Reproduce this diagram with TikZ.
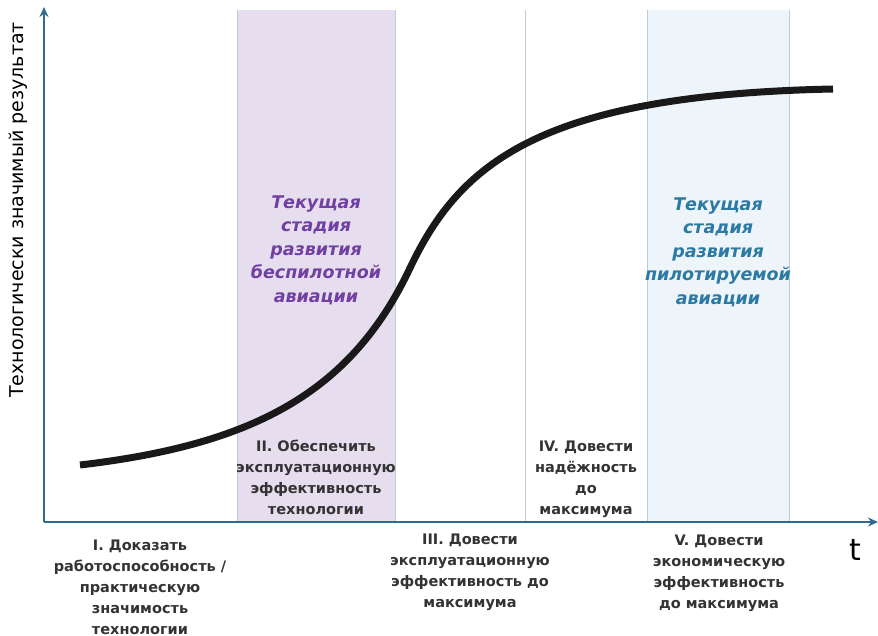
\documentclass[tikz,border=0pt]{standalone}
\usepackage{fontspec}
\setmainfont{DejaVu Sans}
\usepackage{xcolor}
\usepackage{tikz}
\usetikzlibrary{arrows.meta}
\usetikzlibrary{positioning}
\definecolor{axisblue}{HTML}{2F6B8A}
\definecolor{bandline}{HTML}{B8CCDD}
\definecolor{lilac}{HTML}{E6DEEE}
\definecolor{paleblue}{HTML}{EEF5FA}
\definecolor{uavtext}{HTML}{7140A2}
\definecolor{mantext}{HTML}{2B7AA3}
\definecolor{stagetext}{HTML}{333333}
\tikzstyle{axis} = [draw=axisblue, line width=2.6pt, -{Stealth[length=10pt,width=9pt]}]
\tikzstyle{band} = [draw=bandline, line width=0.9pt]
\tikzstyle{stage} = [align=center, text=stagetext, font=\fontsize{14.5}{21}\selectfont\bfseries, inner sep=0pt]
\tikzstyle{current} = [align=center, font=\fontsize{17.5}{23.5}\selectfont\bfseries\itshape, inner sep=0pt]

\begin{document}
\begin{tikzpicture}[x=1pt,y=-1pt]
    \useasboundingbox (0,0) rectangle (878,636);
    % Place bands
    \fill[lilac] (237,10) rectangle (395,522);
    \fill[paleblue] (647,10) rectangle (789,522);
    \draw[band] (237,10) -- (237,522);
    \draw[band] (395,10) -- (395,522);
    \draw[band] (525,10) -- (525,522);
    \draw[band] (647,10) -- (647,522);
    \draw[band] (789,10) -- (789,522);
    % Place coordinates
    \coordinate (origin) at (44,522);
    \coordinate (ytop) at (44,7);
    \coordinate (xend) at (878,522);
    % Draw axes
    \path [axis] (origin) -- (ytop);
    \path [axis] (origin) -- (xend);
    % S-curve
    \draw[line width=7pt, color=black!90] (80,465)
        .. controls (250,445) and (350,395) .. (410,268)
        .. controls (460,163) and (540,95) .. (833,89);
    % Place nodes
    \node[rotate=90, font=\fontsize{19}{20}\selectfont, inner sep=0pt] (ylabel) at (18,210)
        {Технологически значимый результат};
    \node[font=\fontsize{30}{30}\selectfont, inner sep=0pt] (tlabel) at (855,550) {t};
    \node[current, text=uavtext] (uav) at (316,250)
        {Текущая\\стадия\\развития\\беспилотной\\авиации};
    \node[current, text=mantext] (manned) at (718,252)
        {Текущая\\стадия\\развития\\пилотируемой\\авиации};
    \node[stage] (s1) at (140,587)
        {I. Доказать\\работоспособность /\\практическую\\значимость\\технологии};
    \node[stage] (s2) at (316,477)
        {II. Обеспечить\\эксплуатационную\\эффективность\\технологии};
    \node[stage] (s3) at (470,572)
        {III. Довести\\эксплуатационную\\эффективность до\\максимума};
    \node[stage] (s4) at (586,479)
        {IV. Довести\\надёжность\\до\\максимума};
    \node[stage] (s5) at (719,573)
        {V. Довести\\экономическую\\эффективность\\до максимума};
\end{tikzpicture}
\end{document}
